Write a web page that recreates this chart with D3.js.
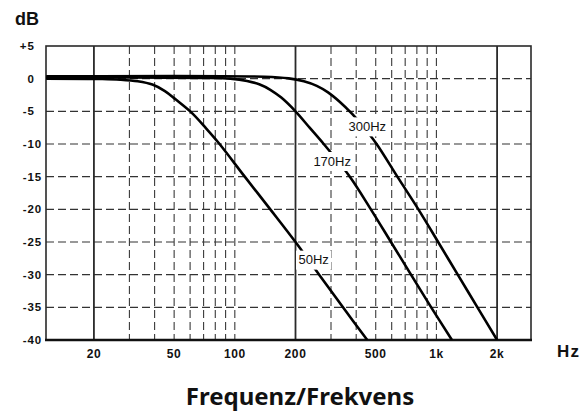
<!DOCTYPE html>
<html>
<head>
<meta charset="utf-8">
<script src="https://cdn.jsdelivr.net/npm/d3@7"></script>
<style>
  html, body { margin: 0; padding: 0; background: #fff; }
  svg { display: block; }
</style>
</head>
<body>
<svg id="chart"></svg>
<script>
// tick values and labels
const dbTicks = [5, 0, -5, -10, -15, -20, -25, -30, -35, -40];
const dbLabels = ["+5", "0", "-5", "-10", "-15", "-20", "-25", "-30", "-35", "-40"];
const freqTicks = [20, 50, 100, 200, 500, 1000, 2000];
const freqLabels = ["20", "50", "100", "200", "500", "1k", "2k"];
const majorFreqs = [20, 200, 2000];
const minorFreqs = [30, 40, 50, 60, 70, 80, 90, 100, 300, 400, 500, 600, 700, 800, 900, 1000];

// curves: [Hz, dB]
const curve50 = [[11.6, 0], [22, -0.05], [27, -0.15], [33, -0.4], [39, -0.9], [45, -1.9], [51, -3.2], [61, -5.2],
  [72, -7.6], [84, -10], [112, -15], [150, -20], [200, -25], [262, -30], [344, -35], [454, -40]];
const curve170 = [[11.6, 0.17], [70, 0.12], [95, 0], [115, -0.35], [133, -0.9], [150, -1.7], [170, -2.9],
  [200, -5], [235, -7.5], [276, -10], [372, -15], [473, -20], [595, -25], [748, -30], [942, -35], [1194, -40]];
const curve300 = [[11.6, 0.35], [140, 0.3], [185, 0.05], [220, -0.4], [255, -1.1], [290, -2.1], [330, -3.5],
  [382, -5.4], [430, -7.2], [505, -10], [640, -15], [814, -20], [1020, -25], [1276, -30], [1598, -35], [2000, -40]];
const curveNames = ["50Hz", "170Hz", "300Hz"];
const labelSpots = [[246, -27.7], [304, -12.6], [454, -7.3]];

const W = 584, H = 418;
const svg = d3.select("#chart").attr("width", W).attr("height", H);

const x = d3.scaleLog().domain([11.57, 2946]).range([46, 531]);
const y = d3.scaleLinear().domain([-40, 5]).range([340, 46]);

const defs = svg.append("defs");
defs.append("clipPath").attr("id", "plot")
  .append("rect")
  .attr("x", x.range()[0]).attr("y", y.range()[1])
  .attr("width", x.range()[1] - x.range()[0])
  .attr("height", y.range()[0] - y.range()[1]);

// horizontal dashed grid
svg.append("g")
  .selectAll("line")
  .data(dbTicks.filter(d => d < 5 && d > -40))
  .join("line")
  .attr("x1", x.range()[0]).attr("x2", x.range()[1])
  .attr("y1", d => y(d)).attr("y2", d => y(d))
  .attr("stroke", "#333")
  .attr("stroke-width", 1.2)
  .attr("stroke-dasharray", "8,4");

// vertical dashed grid
svg.append("g")
  .selectAll("line")
  .data(minorFreqs)
  .join("line")
  .attr("x1", d => x(d)).attr("x2", d => x(d))
  .attr("y1", y.range()[1]).attr("y2", y.range()[0])
  .attr("stroke", "#3a3a3a")
  .attr("stroke-width", 1.1)
  .attr("stroke-dasharray", "8,4");

// solid decade lines
svg.append("g")
  .selectAll("line")
  .data(majorFreqs)
  .join("line")
  .attr("x1", d => x(d)).attr("x2", d => x(d))
  .attr("y1", y.range()[1]).attr("y2", y.range()[0])
  .attr("stroke", "#2a2a2a")
  .attr("stroke-width", 1.8);

// frame
svg.append("rect")
  .attr("x", x.range()[0]).attr("y", y.range()[1])
  .attr("width", x.range()[1] - x.range()[0])
  .attr("height", y.range()[0] - y.range()[1])
  .attr("fill", "none")
  .attr("stroke", "#2a2a2a")
  .attr("stroke-width", 1.6);
svg.append("line")
  .attr("x1", x.range()[0] - 1).attr("x2", x.range()[1] + 1)
  .attr("y1", y.range()[0]).attr("y2", y.range()[0])
  .attr("stroke", "#111")
  .attr("stroke-width", 2.6);

// curves
const line = d3.line()
  .x(d => x(d[0]))
  .y(d => y(d[1]))
  .curve(d3.curveCatmullRom.alpha(0.5));

svg.append("g")
  .attr("clip-path", "url(#plot)")
  .selectAll("path")
  .data([curve50, curve170, curve300])
  .join("path")
  .attr("d", line)
  .attr("fill", "none")
  .attr("stroke", "#000")
  .attr("stroke-width", 2.6);

// curve labels with white knock-out
const lab = svg.append("g")
  .selectAll("g")
  .data(curveNames.map((n, i) => ({ name: n, f: labelSpots[i][0], db: labelSpots[i][1] })))
  .join("g")
  .attr("transform", d => `translate(${x(d.f)},${y(d.db)})`);
lab.append("rect")
  .attr("x", d => -d.name.length * 3.9 - 2)
  .attr("y", -9)
  .attr("width", d => d.name.length * 7.8 + 4)
  .attr("height", 19)
  .attr("fill", "#fff");
lab.append("text")
  .attr("text-anchor", "middle")
  .attr("dy", "0.36em")
  .style("font-family", "'Liberation Sans', Arial, sans-serif")
  .style("font-size", "13px")
  .attr("fill", "#111")
  .text(d => d.name);

// y tick labels: sign set in front of the digits
const yl = svg.append("g")
  .style("font-family", "'Liberation Sans', Arial, sans-serif")
  .style("font-size", "11.5px")
  .style("font-weight", "bold")
  .attr("fill", "#111");
yl.selectAll("text.num")
  .data(dbTicks)
  .join("text")
  .attr("class", "num")
  .attr("x", 27.5)
  .attr("y", d => y(d))
  .attr("dy", "0.36em")
  .style("letter-spacing", "0.8px")
  .text((d, i) => dbLabels[i].replace(/^[+-]/, ""));
yl.selectAll("text.sign")
  .data(dbTicks.filter(d => d !== 0))
  .join("text")
  .attr("class", "sign")
  .attr("x", 26.5)
  .attr("y", d => y(d))
  .attr("dy", "0.36em")
  .attr("text-anchor", "end")
  .text(d => dbLabels[dbTicks.indexOf(d)][0]);

// x tick labels
svg.append("g")
  .selectAll("text")
  .data(freqTicks)
  .join("text")
  .attr("x", d => x(d))
  .attr("y", 358)
  .attr("text-anchor", "middle")
  .style("font-family", "'Liberation Sans', Arial, sans-serif")
  .style("font-size", "12px")
  .style("font-weight", "bold")
  .style("letter-spacing", "0.6px")
  .attr("fill", "#111")
  .text((d, i) => freqLabels[i]);

// axis units
svg.append("text")
  .attr("x", 15).attr("y", 25)
  .style("font-family", "'Liberation Sans', Arial, sans-serif")
  .style("font-size", "18px")
  .style("font-weight", "bold")
  .attr("fill", "#111")
  .text("dB");
svg.append("text")
  .attr("x", 557).attr("y", 357)
  .style("font-family", "'Liberation Sans', Arial, sans-serif")
  .style("font-size", "17px")
  .style("font-weight", "bold")
  .style("letter-spacing", "1.2px")
  .attr("fill", "#111")
  .text("Hz");

// title
svg.append("text")
  .attr("x", 300).attr("y", 405)
  .attr("text-anchor", "middle")
  .style("font-family", "'Noto Sans', 'Open Sans', sans-serif")
  .style("font-size", "24px")
  .style("font-weight", "bold")
  .attr("fill", "#111")
  .text("Frequenz/Frekvens");
</script>
</body>
</html>
